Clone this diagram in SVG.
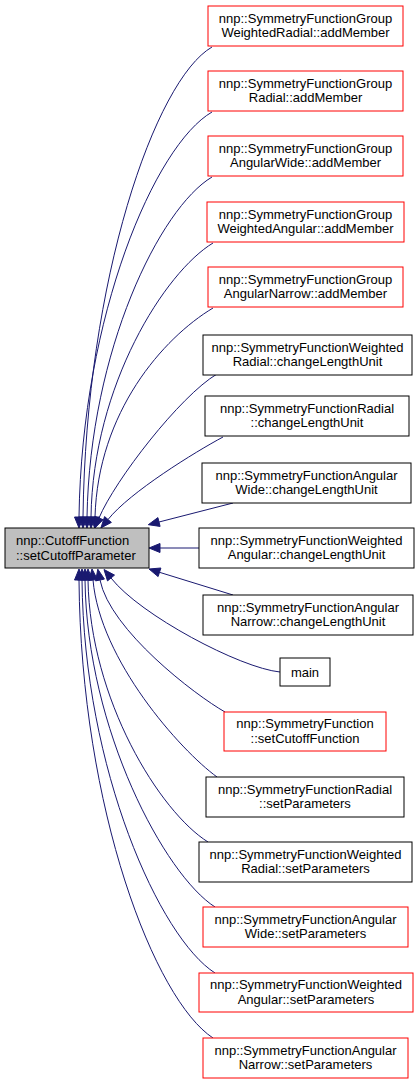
<svg xmlns="http://www.w3.org/2000/svg" width="419" height="1084" viewBox="0 0 419 1084">
<style>
.bx{fill:#ffffff;stroke:#000000;stroke-width:1}
.rd{fill:#ffffff;stroke:#ff0000;stroke-width:1}
.ctr{fill:#bfbfbf;stroke:#000000;stroke-width:1}
text{font-family:"Liberation Sans",Arial,Helvetica,sans-serif;font-size:13px;fill:#000000}
.m{text-anchor:middle}
.e{fill:none;stroke:#191970;stroke-width:1}
.a{fill:#191970;stroke:#191970;stroke-width:1}
</style>
<rect width="419" height="1084" fill="#ffffff"/>
<g id="connectors">
<path class="e" d="M212,47 C155,80 86,280 83,517"/><polygon class="a" points="78.5,517 83,528 87.5,517"/>
<path class="e" d="M212,112 C155,145 82,315 79,517"/><polygon class="a" points="74.5,517 79,528 83.5,517"/>
<path class="e" d="M212,177 C160,208 90,350 87,517"/><polygon class="a" points="82.5,517 87,528 91.5,517"/>
<path class="e" d="M213,243 C165,272 93,385 91,517"/><polygon class="a" points="86.5,517 91,528 95.5,517"/>
<path class="e" d="M213,308 C163,338 98,412 95,517"/><polygon class="a" points="90.5,517 94.7,528 99.5,517"/>
<path class="e" d="M217,374 C180,396 115,480 99,518"/><polygon class="a" points="103.1,519.7 94.8,528.1 94.9,516.3"/>
<path class="e" d="M223,437 C195,452 130,492 108,519.5"/><polygon class="a" points="111.4,522.4 100.9,527.9 104.6,516.6"/>
<path class="e" d="M233,503 L159,522"/><polygon class="a" points="160.1,526.4 148.3,524.7 157.9,517.6"/>
<path class="e" d="M199,548 L160,548"/><polygon class="a" points="160,543.5 149,548 160,552.5"/>
<path class="e" d="M233,595 L159.5,572.3"/><polygon class="a" points="160.9,568 149,569 158.1,576.6"/>
<path class="e" d="M280,672 C240,668 140,615 111,578"/><polygon class="a" points="114.5,575.1 104,569.5 107.5,580.9"/>
<path class="e" d="M225,712 C195,695 110,630 100,580"/><polygon class="a" points="104.4,579.1 97.8,569.2 95.6,580.9"/>
<path class="e" d="M217,777 C180,750 100,660 93,580"/><polygon class="a" points="97.5,579.6 92,569 88.5,580.4"/>
<path class="e" d="M208,842 C160,812 90,700 88,580"/><polygon class="a" points="83.5,580 88,569 92.5,580"/>
<path class="e" d="M215,907 C165,875 87,730 85,580"/><polygon class="a" points="80.5,580 85,569 89.5,580"/>
<path class="e" d="M215,973 C160,938 84,770 82,580"/><polygon class="a" points="77.5,580 82,569 86.5,580"/>
<path class="e" d="M213,1038 C155,1000 81,810 79,580"/><polygon class="a" points="74.5,580 79,569 83.5,580"/>
</g>
<g id="center">
<rect class="ctr" x="5" y="528" width="144" height="40"/>
<text x="16" y="545">nnp::CutoffFunction</text>
<text x="16" y="559.5">::setCutoffParameter</text>
</g>
<g id="n0"><rect class="rd" x="208" y="6" width="195" height="40"/><text class="m" x="305.5" y="22.5">nnp::SymmetryFunctionGroup</text><text class="m" x="305.5" y="37">WeightedRadial::addMember</text></g>
<g id="n1"><rect class="rd" x="208" y="71" width="195" height="40"/><text class="m" x="305.5" y="87.5">nnp::SymmetryFunctionGroup</text><text class="m" x="305.5" y="102">Radial::addMember</text></g>
<g id="n2"><rect class="rd" x="208" y="136" width="195" height="40"/><text class="m" x="305.5" y="152.5">nnp::SymmetryFunctionGroup</text><text class="m" x="305.5" y="167">AngularWide::addMember</text></g>
<g id="n3"><rect class="rd" x="207" y="202" width="197" height="40"/><text class="m" x="305.5" y="218.5">nnp::SymmetryFunctionGroup</text><text class="m" x="305.5" y="233">WeightedAngular::addMember</text></g>
<g id="n4"><rect class="rd" x="208" y="267" width="195" height="40"/><text class="m" x="305.5" y="283.5">nnp::SymmetryFunctionGroup</text><text class="m" x="305.5" y="298">AngularNarrow::addMember</text></g>
<g id="n5"><rect class="bx" x="203" y="335" width="209" height="40"/><text class="m" x="307.5" y="351.5">nnp::SymmetryFunctionWeighted</text><text class="m" x="307.5" y="366">Radial::changeLengthUnit</text></g>
<g id="n6"><rect class="bx" x="205" y="396" width="204" height="40"/><text class="m" x="307" y="412.5">nnp::SymmetryFunctionRadial</text><text class="m" x="307" y="427">::changeLengthUnit</text></g>
<g id="n7"><rect class="bx" x="202" y="463" width="209" height="40"/><text class="m" x="306.5" y="479.5">nnp::SymmetryFunctionAngular</text><text class="m" x="306.5" y="494">Wide::changeLengthUnit</text></g>
<g id="n8"><rect class="bx" x="199" y="528" width="215" height="40"/><text class="m" x="306.5" y="544.5">nnp::SymmetryFunctionWeighted</text><text class="m" x="306.5" y="559">Angular::changeLengthUnit</text></g>
<g id="n9"><rect class="bx" x="203" y="595" width="210" height="40"/><text class="m" x="308" y="611.5">nnp::SymmetryFunctionAngular</text><text class="m" x="308" y="626">Narrow::changeLengthUnit</text></g>
<g id="n10"><rect class="bx" x="280" y="658" width="50" height="28"/><text class="m" x="305" y="676.5">main</text></g>
<g id="n11"><rect class="rd" x="224" y="712" width="162" height="39"/><text class="m" x="305" y="728">nnp::SymmetryFunction</text><text class="m" x="305" y="742.5">::setCutoffFunction</text></g>
<g id="n12"><rect class="bx" x="206" y="777" width="198" height="40"/><text class="m" x="305" y="793.5">nnp::SymmetryFunctionRadial</text><text class="m" x="305" y="808">::setParameters</text></g>
<g id="n13"><rect class="bx" x="199" y="842" width="213" height="40"/><text class="m" x="305.5" y="858.5">nnp::SymmetryFunctionWeighted</text><text class="m" x="305.5" y="873">Radial::setParameters</text></g>
<g id="n14"><rect class="rd" x="203" y="907" width="205" height="40"/><text class="m" x="305.5" y="923.5">nnp::SymmetryFunctionAngular</text><text class="m" x="305.5" y="938">Wide::setParameters</text></g>
<g id="n15"><rect class="rd" x="199" y="973" width="214" height="39"/><text class="m" x="306" y="989">nnp::SymmetryFunctionWeighted</text><text class="m" x="306" y="1003.5">Angular::setParameters</text></g>
<g id="n16"><rect class="rd" x="203" y="1038" width="205" height="40"/><text class="m" x="305.5" y="1054.5">nnp::SymmetryFunctionAngular</text><text class="m" x="305.5" y="1069">Narrow::setParameters</text></g>
</svg>
